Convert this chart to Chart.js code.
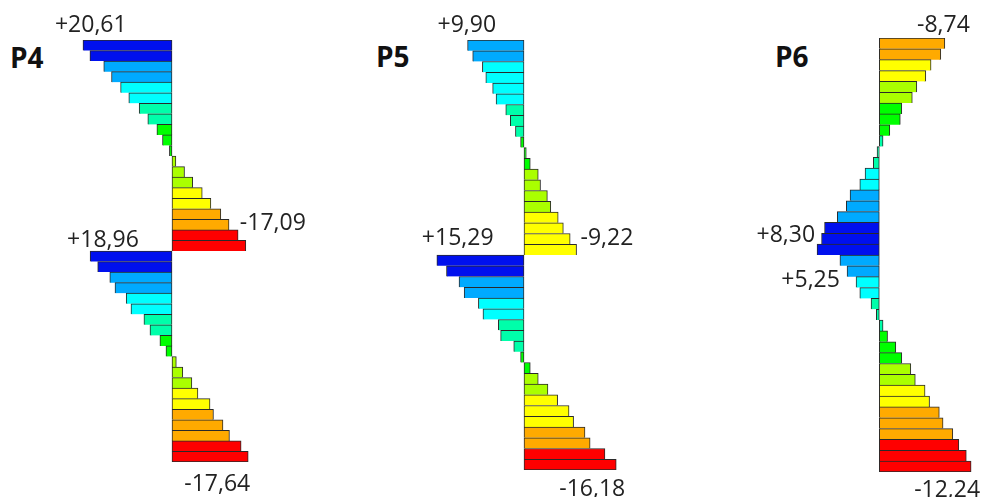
<!DOCTYPE html>
<html lang="en">
  <head>
    <meta charset="UTF-8" />
    <title>P4 P5 P6</title>
    <script src="https://cdn.jsdelivr.net/npm/chart.js"></script>
    <style>
      body {
        margin: 0;
        width: 982px;
        height: 497px;
        overflow: hidden;
        position: relative;
        background: #ffffff;
        font-family: "Open Sans", sans-serif;
      }
      .col {
        position: absolute;
        top: 0;
        height: 497px;
      }
      .title {
        position: absolute;
        font-size: 28px;
        line-height: 28px;
        font-weight: bold;
        color: #111;
      }
    </style>
  </head>
  <body>
    <div class="title" style="left: 10px; top: 43px">P4</div>
    <div class="title" style="left: 376px; top: 42px">P5</div>
    <div class="title" style="left: 775px; top: 42px">P6</div>
    <div class="col" style="left: 0; width: 330px"><canvas id="p4"></canvas></div>
    <div class="col" style="left: 330px; width: 330px"><canvas id="p5"></canvas></div>
    <div class="col" style="left: 660px; width: 322px"><canvas id="p6"></canvas></div>
    <script>
      // row values along each column, top to bottom (two element segments of 20 rows)
      const rows = Array.from({ length: 40 }, (_, i) => i + 1);

      const p4Values = [
        20.61, 19.0, 15.8, 14.0, 11.9, 10.0, 7.6, 5.6, 3.5, 2.2,
        0.6, -0.9, -2.9, -4.8, -7.0, -9.0, -11.3, -13.2, -15.3, -17.09,
        18.96, 17.2, 14.4, 13.2, 10.6, 9.5, 6.5, 5.1, 2.8, 1.4,
        -1.0, -2.5, -4.6, -6.0, -8.8, -9.6, -11.8, -13.3, -16.0, -17.64,
      ];
      const p5Values = [
        9.9, 9.0, 7.3, 6.7, 5.5, 4.9, 3.2, 2.4, 1.5, 0.6,
        -0.4, -1.1, -2.5, -2.9, -4.1, -4.7, -6.0, -6.9, -8.1, -9.22,
        15.29, 13.6, 11.4, 10.5, 8.0, 7.2, 4.5, 4.1, 1.8, 0.6,
        -1.1, -2.5, -4.2, -5.9, -7.9, -8.7, -10.7, -11.6, -14.2, -16.18,
      ];
      const p6Values = [
        -8.74, -8.2, -6.9, -6.2, -5.0, -4.4, -3.0, -2.8, -1.4, -0.5,
        0.3, 0.8, 1.9, 2.6, 3.9, 4.4, 5.6, 7.3, 7.7, 8.3,
        5.25, 4.3, 3.1, 2.6, 1.1, 0.4, -0.5, -1.1, -2.2, -3.0,
        -4.2, -4.8, -6.1, -6.7, -8.0, -8.5, -9.8, -10.6, -11.6, -12.24,
      ];

      // rows that carry a value label
      const p4Labelled = [0, 19, 20, 39];
      const p5Labelled = [0, 19, 20, 39];
      const p6Labelled = [0, 19, 20, 39];

      const bandColors = [
        "#0010ee", "#00aaff", "#00ffff", "#00ffaa", "#00ff00",
        "#aaff00", "#ffff00", "#ffaa00", "#ff0000",
      ];

      function bandColor(v, values) {
        const max = Math.max(...values);
        const min = Math.min(...values);
        const i = Math.floor(((max - v) / (max - min)) * 9 - 0.01);
        return bandColors[Math.max(0, Math.min(8, i))];
      }

      function fmt(v) {
        return (v > 0 ? "+" : "") + v.toFixed(2).replace(".", ",");
      }

      const endLabels = {
        id: "endLabels",
        afterDatasetsDraw(chart, args, opts) {
          const ctx = chart.ctx;
          const meta = chart.getDatasetMeta(0);
          const values = chart.data.datasets[0].data;
          ctx.save();
          ctx.font = '23px "Open Sans"';
          ctx.fillStyle = "#222";
          ctx.textBaseline = "alphabetic";
          opts.items.forEach((it) => {
            const bar = meta.data[it.row];
            const half = bar.height / 2;
            const yRef = it.from === "top" ? bar.y - half : bar.y + half;
            ctx.textAlign = it.align;
            ctx.fillText(fmt(values[it.row]), bar.x + it.dx, yRef + it.dy);
          });
          ctx.restore();
        },
      };

      function makeColumn(id, values, labelled, cfg) {
        const ctx = document.getElementById(id).getContext("2d");
        const items = labelled.map((row, k) => Object.assign({ row }, cfg.labels[k]));
        return new Chart(ctx, {
          type: "bar",
          data: {
            labels: rows,
            datasets: [
              {
                data: values,
                backgroundColor: values.map((v) => bandColor(v, values)),
                borderColor: "#2a2a2a",
                borderWidth: (c) => ({ top: 1, left: 1, right: 1, bottom: c.dataIndex === 39 ? 1 : 0 }),
                borderSkipped: false,
                barPercentage: 1,
                categoryPercentage: 1,
              },
            ],
          },
          options: {
            indexAxis: "y",
            responsive: true,
            maintainAspectRatio: false,
            animation: false,
            layout: { padding: { top: cfg.top, bottom: cfg.bottom, left: 0, right: 0 } },
            scales: {
              x: {
                display: false,
                reverse: true,
                min: -(cfg.width - cfg.axis) / cfg.scale,
                max: cfg.axis / cfg.scale,
              },
              y: { display: false },
            },
            plugins: {
              legend: { display: false },
              tooltip: { enabled: false },
              endLabels: { items },
            },
          },
          plugins: [endLabels],
        });
      }

      makeColumn("p4", p4Values, p4Labelled, {
        width: 330, axis: 172, scale: 4.32, top: 40, bottom: 35,
        labels: [
          { align: "left", dx: -28, from: "top", dy: -8 },
          { align: "left", dx: -6, from: "top", dy: -10 },
          { align: "left", dx: -23, from: "top", dy: -4 },
          { align: "right", dx: 2, from: "bottom", dy: 29 },
        ],
      });
      makeColumn("p5", p5Values, p5Labelled, {
        width: 330, axis: 194, scale: 5.7, top: 40, bottom: 27,
        labels: [
          { align: "left", dx: -30, from: "top", dy: -8 },
          { align: "left", dx: 4, from: "top", dy: 1 },
          { align: "left", dx: -15, from: "top", dy: -10 },
          { align: "right", dx: 9, from: "bottom", dy: 26 },
        ],
      });
      makeColumn("p6", p6Values, p6Labelled, {
        width: 322, axis: 219.3, scale: 7.5, top: 38, bottom: 25,
        labels: [
          { align: "right", dx: 25, from: "top", dy: -6 },
          { align: "right", dx: -2, from: "top", dy: -2 },
          { align: "right", dx: 0, from: "top", dy: 32 },
          { align: "right", dx: 9, from: "bottom", dy: 25 },
        ],
      });
    </script>
  </body>
</html>
